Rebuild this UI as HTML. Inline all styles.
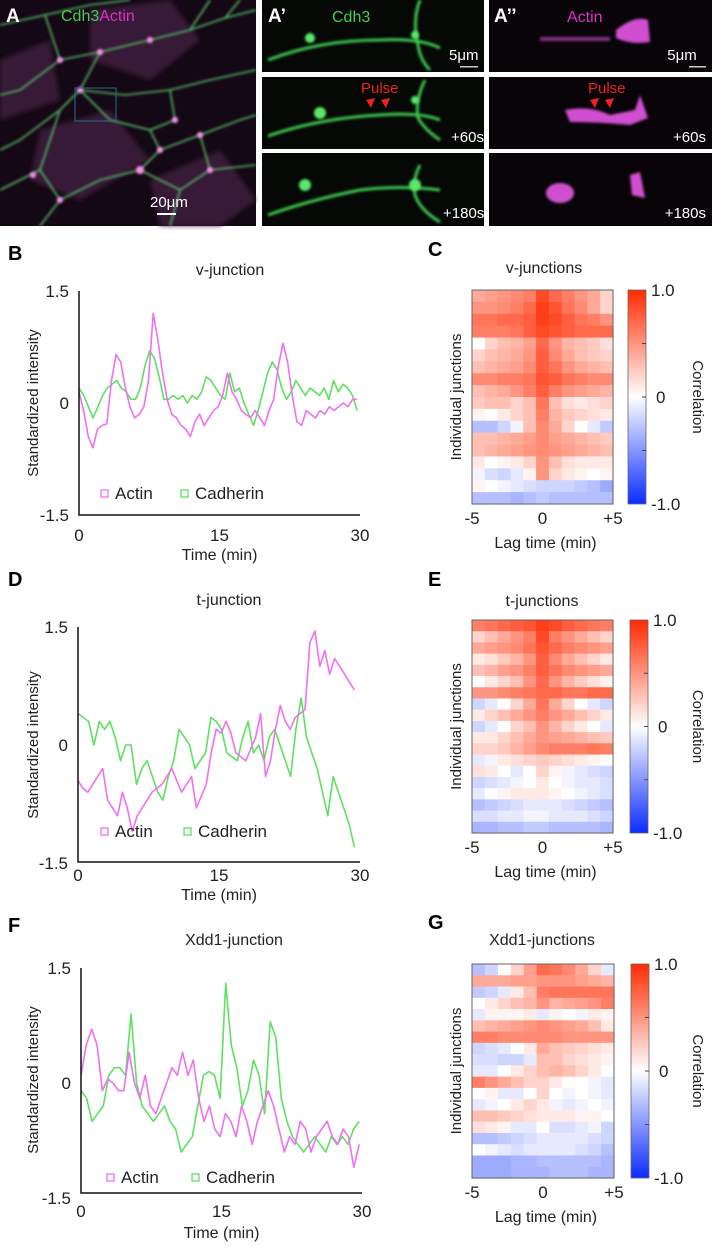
<!DOCTYPE html>
<html><head><meta charset="utf-8">
<style>
body{margin:0;background:#fff;}
#fig{position:relative;width:712px;height:1248px;overflow:hidden;font-family:"Liberation Sans",Arial,sans-serif;}
svg text{font-family:"Liberation Sans",Arial,sans-serif;}
</style></head>
<body>
<div id="fig">
<svg id="svg" width="712" height="1248" viewBox="0 0 712 1248" xmlns="http://www.w3.org/2000/svg">
<defs>
<linearGradient id="cbar" x1="0" y1="0" x2="0" y2="1">
<stop offset="0" stop-color="#ff2a00"/><stop offset="0.5" stop-color="#ffffff"/><stop offset="1" stop-color="#0a2cff"/>
</linearGradient>
<filter id="blur2"><feGaussianBlur stdDeviation="1.2"/></filter>
<filter id="blur3"><feGaussianBlur stdDeviation="2.5"/></filter>
</defs>

<!-- Panel A microscopy -->
<g>
<rect x="0" y="0" width="256" height="226" fill="#150815"/>
<g fill="#3a1a3a" opacity="0.9" filter="url(#blur3)">
<polygon points="90,10 170,0 200,40 150,80 90,60"/>
<polygon points="40,130 110,110 150,160 80,200 30,180"/>
<polygon points="150,180 220,150 256,200 220,226 160,226"/>
<polygon points="0,60 50,40 60,100 0,120"/>
</g>
<g fill="none" stroke="#5fd070" stroke-width="1.6" opacity="0.9" filter="url(#blur2)">
<path d="M0,25 L45,15 L90,5 L130,0"/>
<path d="M45,15 L60,60 L20,90 L0,95"/>
<path d="M60,60 L100,52 L150,40 L190,30 L225,18 L256,10"/>
<path d="M190,30 L210,0"/><path d="M225,18 L240,0"/>
<path d="M100,52 L80,90 L60,110 L20,140 L0,150"/>
<path d="M80,90 L125,95 L170,90 L210,80 L256,70"/>
<path d="M170,90 L175,120 L150,130 L110,120 L80,90"/>
<path d="M150,130 L160,150 L140,170 L100,180 L60,200 L40,226"/>
<path d="M160,150 L200,135 L240,120 L256,115"/>
<path d="M200,135 L210,170 L180,190 L140,170"/>
<path d="M180,190 L170,226"/><path d="M210,170 L256,165"/>
<path d="M60,110 L40,170 L0,190"/><path d="M40,170 L60,200"/>
</g>
<g fill="#ff8af0" filter="url(#blur2)">
<circle cx="150" cy="40" r="3"/><circle cx="100" cy="52" r="3"/><circle cx="80" cy="90" r="3"/>
<circle cx="175" cy="120" r="3"/><circle cx="160" cy="150" r="3"/><circle cx="140" cy="170" r="4"/>
<circle cx="60" cy="200" r="3"/><circle cx="33" cy="175" r="3"/><circle cx="200" cy="135" r="3"/>
<circle cx="60" cy="60" r="3"/><circle cx="210" cy="170" r="3"/>
</g>
<rect x="75" y="88" width="41" height="33" fill="none" stroke="#2a6a8a" stroke-width="1"/>
<text x="6" y="22" font-size="19" font-weight="bold" fill="#fff">A</text>
<text x="61" y="21" font-size="16" fill="#44d04a">Cdh3<tspan fill="#e030c8">Actin</tspan></text>
<text x="150" y="207" font-size="15" fill="#fff">20μm</text>
<rect x="157" y="213" width="19" height="2" fill="#fff"/>
</g>

<!-- A' panels -->
<g>
<rect x="262" y="0" width="222" height="72" fill="#050805"/>
<rect x="262" y="77" width="222" height="72" fill="#050805"/>
<rect x="262" y="153" width="222" height="73" fill="#050805"/>
<g fill="none" stroke="#3cc850" stroke-width="3" filter="url(#blur2)">
<path d="M268,60 Q320,40 380,40 Q420,38 440,48"/><path d="M420,0 Q412,20 418,45 Q420,60 430,70"/>
<path d="M268,136 Q320,118 380,115 Q420,112 440,120"/><path d="M425,80 Q415,100 418,118 Q425,130 440,140"/>
<path d="M268,215 Q310,200 360,190 Q400,185 440,190"/><path d="M420,165 Q412,180 415,195 Q420,210 440,222"/>
</g>
<g fill="#5ae86a" filter="url(#blur2)">
<circle cx="310" cy="38" r="5"/><circle cx="415" cy="35" r="4"/><circle cx="320" cy="113" r="6"/><circle cx="415" cy="100" r="4"/>
<circle cx="305" cy="185" r="6"/><circle cx="415" cy="185" r="6"/>
</g>
<text x="268" y="22" font-size="19" font-weight="bold" fill="#fff">A’</text>
<text x="332" y="22" font-size="16" fill="#44d04a">Cdh3</text>
<text x="449" y="60" font-size="15" fill="#fff">5μm</text>
<rect x="460" y="66" width="18" height="1.5" fill="#ccc"/>
<text x="361" y="93" font-size="15" fill="#ee2222">Pulse</text>
<polygon points="366,100 375,98 371,108" fill="#ee2222"/><polygon points="381,100 390,98 386,108" fill="#ee2222"/>
<text x="451" y="142" font-size="15" fill="#fff">+60s</text>
<text x="443" y="218" font-size="15" fill="#fff">+180s</text>
</g>

<!-- A'' panels -->
<g>
<rect x="489" y="0" width="223" height="72" fill="#080408"/>
<rect x="489" y="77" width="223" height="72" fill="#080408"/>
<rect x="489" y="153" width="223" height="73" fill="#080408"/>
<g fill="#d050d0" filter="url(#blur2)">
<path d="M616,30 Q635,15 648,20 L650,42 Q630,45 616,38 Z"/>
<rect x="540" y="37" width="70" height="4" opacity="0.6"/>
<path d="M565,110 Q590,105 610,115 Q625,112 635,110 L640,95 L648,118 L630,125 Q600,122 570,122 Z"/>
<ellipse cx="560" cy="193" rx="14" ry="10"/>
<path d="M630,175 L640,172 L645,198 L632,195 Z"/>
</g>
<text x="494" y="22" font-size="19" font-weight="bold" fill="#fff">A’’</text>
<text x="567" y="22" font-size="16" fill="#e030c8">Actin</text>
<text x="682" y="60" font-size="15" fill="#fff" text-anchor="middle">5μm</text>
<rect x="689" y="66" width="17" height="1.5" fill="#ccc"/>
<text x="588" y="93" font-size="15" fill="#ee2222">Pulse</text>
<polygon points="590,100 599,98 595,108" fill="#ee2222"/><polygon points="605,100 614,98 610,108" fill="#ee2222"/>
<text x="706" y="142" font-size="15" fill="#fff" text-anchor="end">+60s</text>
<text x="706" y="218" font-size="15" fill="#fff" text-anchor="end">+180s</text>
</g>
<g id="charts"></g>
</svg>
</div>
<script>
// ---- Line chart data (time 0..30 min, evenly sampled) ----
const timeTicks = [0, 15, 30];
const yTicks = [1.5, 0, -1.5];
const actinB = [0.15,-0.1,-0.45,-0.6,-0.35,-0.3,-0.28,0.3,0.65,0.55,0.2,-0.05,-0.2,-0.15,-0.05,0.3,1.2,0.85,0.4,0.05,-0.15,-0.2,-0.3,-0.35,-0.45,-0.25,-0.15,-0.3,-0.2,-0.1,-0.05,0.1,0.4,0.15,0.05,-0.1,-0.15,-0.2,-0.1,-0.2,-0.3,-0.1,0.05,0.5,0.8,0.55,0.1,-0.25,-0.3,-0.1,-0.15,-0.2,-0.1,-0.15,-0.05,-0.1,-0.05,0.0,-0.05,0.05,0.05];
const cadherinB = [0.2,0.1,-0.05,-0.2,-0.05,0.1,0.2,0.25,0.3,0.2,0.15,0.05,0.05,0.2,0.5,0.7,0.6,0.35,0.05,0.05,0.1,0.05,0.1,0.0,0.1,0.05,0.15,0.35,0.3,0.2,0.1,0.05,0.4,0.15,0.2,0.0,-0.15,-0.3,-0.1,0.15,0.4,0.55,0.45,0.2,0.05,0.15,0.3,0.2,0.1,0.2,0.15,0.1,0.2,0.05,0.3,0.15,0.25,0.2,0.1,-0.1];
const actinD = [-0.45,-0.55,-0.6,-0.5,-0.4,-0.3,-0.7,-0.8,-0.9,-0.6,-0.8,-1.1,-0.9,-0.8,-0.7,-0.6,-0.55,-0.5,-0.4,-0.3,-0.45,-0.6,-0.5,-0.4,-0.8,-0.65,-0.5,-0.1,0.2,0.15,0.3,0.15,-0.1,-0.15,-0.2,-0.05,0.1,0.4,-0.4,-0.2,0.2,0.5,0.3,0.2,0.35,0.4,0.45,1.3,1.45,1.0,1.2,0.9,1.1,1.0,0.9,0.8,0.7];
const cadherinD = [0.4,0.35,0.3,0.0,0.3,0.2,0.3,0.1,-0.2,0.0,0.0,-0.5,-0.3,-0.2,-0.4,-0.6,-0.7,-0.4,-0.2,0.2,0.1,0.0,-0.3,-0.2,-0.1,0.35,0.3,0.2,-0.1,-0.15,-0.2,0.1,0.3,-0.1,0.0,-0.2,0.1,0.2,0.0,-0.2,-0.4,0.2,0.6,0.1,-0.1,-0.3,-0.6,-0.9,-0.4,-0.6,-0.8,-1.0,-1.3];
const actinF = [0.1,0.5,0.7,0.5,-0.1,0.05,0.0,-0.1,-0.1,0.4,0.0,-0.2,0.1,-0.3,-0.4,-0.2,0.0,0.2,0.1,0.4,0.1,0.3,-0.2,-0.5,-0.3,-0.6,-0.7,-0.4,-0.5,-0.7,-0.3,-0.5,-0.8,-0.5,-0.3,-0.1,-0.3,-0.6,-0.9,-0.7,-0.8,-0.5,-0.6,-0.9,-0.7,-0.6,-0.5,-0.7,-0.8,-0.6,-0.7,-1.1,-0.8];
const cadherinF = [-0.1,-0.2,-0.5,-0.4,-0.3,0.1,0.2,0.2,0.1,0.9,0.0,-0.3,-0.4,-0.5,-0.4,-0.3,-0.5,-0.6,-0.9,-0.8,-0.7,-0.3,0.1,0.15,0.1,-0.2,1.3,0.5,0.2,-0.3,-0.1,0.3,0.1,-0.4,0.8,0.6,-0.2,-0.5,-0.7,-0.8,-0.9,-0.8,-0.7,-0.8,-0.9,-0.7,-0.8,-0.7,-0.8,-0.6,-0.5];
// ---- Heatmap data (rows = junctions, cols = lag -5..+5 min) ----
const lagTicks = ["-5", "0", "+5"];
const cbarTicks = ["1.0", "0", "-1.0"];
const heatC = [
[0.4,0.45,0.5,0.55,0.6,0.85,0.7,0.6,0.5,0.4,0.2],
[0.5,0.5,0.55,0.6,0.7,0.9,0.8,0.65,0.55,0.4,0.2],
[0.65,0.65,0.7,0.7,0.75,0.9,0.85,0.75,0.65,0.6,0.5],
[0.6,0.6,0.6,0.65,0.75,0.85,0.8,0.75,0.7,0.7,0.7],
[0.0,0.2,0.3,0.35,0.45,0.7,0.5,0.35,0.3,0.25,0.15],
[0.2,0.3,0.35,0.4,0.5,0.75,0.55,0.4,0.3,0.25,0.2],
[0.3,0.35,0.4,0.45,0.55,0.75,0.65,0.5,0.4,0.35,0.3],
[0.55,0.55,0.6,0.6,0.65,0.8,0.75,0.65,0.6,0.55,0.55],
[0.3,0.35,0.4,0.5,0.6,0.75,0.6,0.5,0.45,0.4,0.35],
[0.25,0.3,0.3,0.2,0.3,0.65,0.3,0.15,0.1,0.15,0.2],
[0.05,0.0,0.1,0.2,0.3,0.6,0.35,0.25,0.2,0.15,0.1],
[-0.3,-0.3,-0.2,-0.05,0.3,0.55,0.4,0.2,0.0,-0.1,-0.25],
[0.3,0.3,0.35,0.4,0.45,0.55,0.45,0.4,0.35,0.3,0.25],
[0.3,0.35,0.4,0.45,0.5,0.55,0.5,0.45,0.4,0.35,0.3],
[0.1,0.0,0.05,0.1,0.2,0.5,0.3,0.15,0.1,0.1,0.1],
[-0.05,-0.15,-0.2,-0.1,0.05,0.5,0.2,0.1,0.05,0.0,0.05],
[0.05,0.0,-0.05,-0.1,-0.15,-0.2,-0.2,-0.2,-0.25,-0.3,-0.4],
[-0.3,-0.3,-0.3,-0.35,-0.3,-0.25,-0.3,-0.3,-0.3,-0.3,-0.3]];
const heatE = [
[0.6,0.65,0.7,0.75,0.8,0.9,0.85,0.75,0.7,0.65,0.6],
[0.2,0.3,0.4,0.5,0.6,0.85,0.6,0.5,0.4,0.3,0.2],
[0.4,0.45,0.5,0.55,0.65,0.8,0.7,0.6,0.55,0.5,0.45],
[0.1,0.15,0.25,0.35,0.5,0.75,0.55,0.4,0.3,0.2,0.1],
[0.3,0.35,0.45,0.5,0.6,0.75,0.65,0.55,0.5,0.45,0.4],
[0.0,0.1,0.2,0.3,0.5,0.7,0.5,0.35,0.25,0.15,0.05],
[0.5,0.5,0.55,0.6,0.65,0.7,0.7,0.65,0.65,0.7,0.7],
[-0.2,-0.1,0.0,0.2,0.4,0.65,0.4,0.2,0.0,-0.1,-0.2],
[0.1,0.2,0.3,0.4,0.5,0.6,0.5,0.4,0.3,0.2,0.1],
[-0.2,-0.1,0.0,0.2,0.3,0.5,0.35,0.2,0.1,0.0,-0.1],
[0.1,0.1,0.2,0.3,0.4,0.5,0.45,0.4,0.35,0.3,0.25],
[0.2,0.2,0.25,0.35,0.45,0.55,0.6,0.6,0.6,0.65,0.6],
[-0.1,-0.05,0.1,0.15,0.2,0.25,0.2,0.15,0.1,0.05,0.0],
[0.15,0.1,0.0,-0.1,0.0,0.2,0.05,-0.05,-0.1,-0.15,-0.2],
[-0.2,-0.15,-0.1,-0.05,0.0,0.1,0.0,-0.05,-0.1,-0.1,-0.15],
[-0.1,0.0,0.05,0.1,0.1,0.1,0.05,0.0,-0.05,-0.1,-0.15],
[-0.3,-0.25,-0.2,-0.15,-0.1,-0.1,-0.1,-0.15,-0.2,-0.25,-0.3],
[-0.15,-0.15,-0.1,-0.1,-0.05,-0.05,-0.1,-0.1,-0.1,-0.15,-0.2],
[-0.35,-0.35,-0.3,-0.3,-0.25,-0.25,-0.3,-0.3,-0.3,-0.3,-0.35]];
const heatG = [
[-0.3,-0.2,0.0,0.2,0.45,0.7,0.65,0.55,0.4,0.2,-0.1],
[0.4,0.4,0.4,0.45,0.45,0.5,0.5,0.5,0.45,0.4,0.35],
[-0.25,-0.2,-0.1,0.1,0.3,0.6,0.65,0.65,0.65,0.65,0.65],
[0.0,0.1,0.2,0.3,0.35,0.5,0.35,0.4,0.45,0.5,0.6],
[-0.1,0.05,0.05,0.05,0.1,-0.1,0.05,0.0,-0.05,0.1,0.05],
[0.3,0.35,0.4,0.45,0.5,0.55,0.5,0.45,0.4,0.3,0.1],
[0.6,0.6,0.55,0.55,0.55,0.55,0.55,0.5,0.5,0.5,0.5],
[-0.2,-0.15,-0.1,0.0,0.1,0.4,0.3,0.25,0.2,0.15,0.1],
[-0.15,-0.15,-0.2,-0.2,-0.1,0.3,0.3,0.2,0.15,0.1,0.05],
[-0.1,-0.1,0.0,0.1,0.2,0.3,0.35,0.3,0.2,0.1,0.0],
[0.6,0.5,0.4,0.3,0.2,0.2,0.1,0.0,0.0,-0.05,-0.1],
[0.0,0.05,-0.1,-0.1,0.0,0.2,0.0,-0.05,0.0,-0.05,-0.1],
[-0.1,-0.05,0.0,0.1,0.2,0.1,-0.05,-0.1,-0.05,0.0,-0.05],
[0.3,0.3,0.25,0.2,0.15,0.1,0.1,0.1,0.05,0.05,0.0],
[0.15,0.1,0.05,-0.1,-0.1,0.0,-0.15,-0.15,-0.1,-0.05,-0.2],
[-0.3,-0.3,-0.25,-0.2,-0.15,-0.1,-0.1,-0.1,-0.1,-0.15,-0.2],
[0.0,-0.05,-0.1,-0.15,-0.1,-0.1,-0.1,-0.1,-0.15,-0.2,-0.3],
[-0.4,-0.4,-0.4,-0.35,-0.35,-0.3,-0.3,-0.3,-0.3,-0.3,-0.35],
[-0.4,-0.4,-0.4,-0.35,-0.35,-0.35,-0.3,-0.3,-0.3,-0.35,-0.35]];

const NS = "http://www.w3.org/2000/svg";
const root = document.getElementById("charts");
function mk(tag, attrs, parent) {
  const e = document.createElementNS(NS, tag);
  for (const k in attrs) e.setAttribute(k, attrs[k]);
  (parent || root).appendChild(e);
  return e;
}
function txt(x, y, s, size, extra, parent) {
  const t = mk("text", Object.assign({x: x, y: y, "font-size": size, fill: "#222"}, extra || {}), parent);
  t.textContent = s;
  return t;
}

function lineChart(g, letter, title, actin, cad) {
  const grp = mk("g", {});
  
  
  const xs = v => g.x0 + (v / 30) * (g.x1 - g.x0);
  const ys = v => g.yZero - v * (g.yZero - g.yTop) / 1.5;
  const pl = txt(8, g.letterY, letter, 20, {"font-weight": "bold", fill: "#000"}, grp);
  
  
  const tt = txt(g.titleX, g.titleY, title, 16, {"text-anchor": "middle"}, grp);
  
  
  const yl = txt(0, 0, "Standardized intensity", 15, {"text-anchor": "middle", transform: "translate(38," + g.yLabelY + ") rotate(-90)"}, grp);
  
  
  yTicks.forEach(v => {
    const t = txt(g.x0 - 10, ys(v) + 6, String(v), 17, {"text-anchor": "end"}, grp);
    
    
  });
  timeTicks.forEach(v => {
    const t = txt(xs(v), g.xLabY, String(v), 17, {"text-anchor": "middle"}, grp);
    
    
  });
  const xt = txt(xs(15), g.xTitleY, "Time (min)", 16, {"text-anchor": "middle"}, grp);
  
  
  const series = [[cad, "#5fe060", "cadherin-line"], [actin, "#f070f0", "actin-line"]];
  series.forEach(s => {
    const arr = s[0];
    const pts = arr.map((v, i) => xs(i * 30 / (arr.length - 1) * g.span).toFixed(1) + "," + ys(v).toFixed(1)).join(" ");
    const p = mk("polyline", {points: pts, fill: "none", stroke: s[1], "stroke-width": 1.6, "stroke-linejoin": "round"}, grp);
    
    
  });
  const ax = mk("path", {d: "M" + g.x0 + "," + (g.yTop) + " V" + g.yBot + " H" + g.x1, fill: "none", stroke: "#111", "stroke-width": 1.5}, grp);
  
  
  // legend
  const l1 = mk("rect", {x: g.legX, y: g.legY - 9, width: 7, height: 7, fill: "none", stroke: "#f070f0", "stroke-width": 1.3}, grp);
  
  
  const lt1 = txt(g.legX + 14, g.legY, "Actin", 17, {}, grp);
  
  
  const l2 = mk("rect", {x: g.legX2, y: g.legY - 9, width: 7, height: 7, fill: "none", stroke: "#5fe060", "stroke-width": 1.3}, grp);
  
  
  const lt2 = txt(g.legX2 + 14, g.legY, "Cadherin", 17, {}, grp);
  
  
}

function color(v) {
  v = Math.max(-1, Math.min(1, v));
  if (v >= 0) {
    return "rgb(255," + Math.round(255 - v * 213) + "," + Math.round(255 - v * 255) + ")";
  }
  const a = -v;
  return "rgb(" + Math.round(255 - a * 245) + "," + Math.round(255 - a * 211) + ",255)";
}

function heatmap(g, letter, title, data) {
  const grp = mk("g", {});
  
  
  const pl = txt(428, g.letterY, letter, 20, {"font-weight": "bold", fill: "#000"}, grp);
  
  
  const tt = txt(g.titleX, g.titleY, title, 16, {"text-anchor": "middle"}, grp);
  
  
  const nR = data.length, nC = data[0].length;
  const cw = (g.x1 - g.x0) / nC, rh = (g.y1 - g.y0) / nR;
  data.forEach((row, r) => row.forEach((v, c) => {
    const cell = mk("rect", {x: (g.x0 + c * cw).toFixed(2), y: (g.y0 + r * rh).toFixed(2), width: (cw + 0.6).toFixed(2), height: (rh + 0.6).toFixed(2), fill: color(v)}, grp);
    
    
  }));
  const fr = mk("rect", {x: g.x0, y: g.y0, width: g.x1 - g.x0, height: g.y1 - g.y0, fill: "none", stroke: "#666", "stroke-width": 1}, grp);
  
  
  const yl = txt(0, 0, "Individual junctions", 15, {"text-anchor": "middle", transform: "translate(461," + ((g.y0 + g.y1) / 2) + ") rotate(-90)"}, grp);
  
  
  lagTicks.forEach((s, i) => {
    const t = txt(g.x0 + i * (g.x1 - g.x0) / 2, g.y1 + 20, s, 17, {"text-anchor": "middle"}, grp);
    
    
  });
  const xt = txt((g.x0 + g.x1) / 2 + 3, g.y1 + 44, "Lag time (min)", 16, {"text-anchor": "middle"}, grp);
  
  
  // colorbar
  const cb = mk("rect", {x: g.cbx, y: g.y0, width: 18, height: g.y1 - g.y0, fill: "url(#cbar)", stroke: "#666", "stroke-width": 0.8}, grp);
  
  
  for (let k = 1; k < 4; k++) {
    const yy = g.y0 + k * (g.y1 - g.y0) / 4;
    mk("line", {x1: g.cbx + 14, x2: g.cbx + 18, y1: yy, y2: yy, stroke: "#444", "stroke-width": 1}, grp);
  }
  cbarTicks.forEach((s, i) => {
    const yy = g.y0 + i * (g.y1 - g.y0) / 2 + 6;
    const t = txt(i === 1 ? g.cbx + 28 : g.cbx + 23, yy, s, 17, {}, grp);
    
    
  });
  const ct = txt(0, 0, "Correlation", 15, {"text-anchor": "middle", transform: "translate(693," + ((g.y0 + g.y1) / 2) + ") rotate(90)"}, grp);
  
  
}

lineChart({x0: 79, x1: 360, yTop: 291, yZero: 403, yBot: 515, span: 0.99, letterY: 260, titleX: 230, titleY: 275, yLabelY: 403, xLabY: 541, xTitleY: 560, legX: 101, legX2: 181, legY: 499}, "B", "v-junction", actinB, cadherinB);
lineChart({x0: 78, x1: 360, yTop: 627, yZero: 745, yBot: 862, span: 0.98, letterY: 586, titleX: 229, titleY: 605, yLabelY: 745, xLabY: 881, xTitleY: 900, legX: 101, legX2: 184, legY: 837}, "D", "t-junction", actinD, cadherinD);
lineChart({x0: 81, x1: 362, yTop: 968, yZero: 1083, yBot: 1193, span: 0.99, letterY: 932, titleX: 234, titleY: 945, yLabelY: 1080, xLabY: 1217, xTitleY: 1238, legX: 107, legX2: 192, legY: 1183}, "F", "Xdd1-junction", actinF, cadherinF);

heatmap({x0: 472, x1: 613, y0: 290, y1: 504, cbx: 628, letterY: 256, titleX: 544, titleY: 273}, "C", "v-junctions", heatC);
heatmap({x0: 472, x1: 613, y0: 620, y1: 833, cbx: 630, letterY: 586, titleX: 542, titleY: 606}, "E", "t-junctions", heatE);
heatmap({x0: 472, x1: 614, y0: 964, y1: 1178, cbx: 631, letterY: 929, titleX: 542, titleY: 945}, "G", "Xdd1-junctions", heatG);
</script>
</body></html>
